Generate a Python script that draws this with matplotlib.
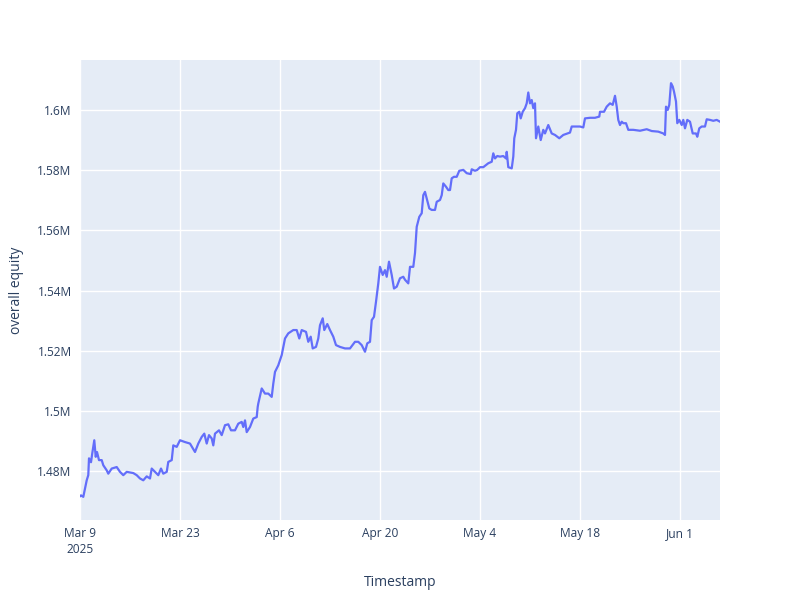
import numpy as np
import pandas as pd
import matplotlib
matplotlib.use("Agg")
import matplotlib.pyplot as plt
import matplotlib.dates as mdates
from matplotlib.ticker import FuncFormatter

# days since 2025-03-09 00:00, overall equity in millions
days = [0.0, 0.14, 0.46, 0.7, 0.94, 1.16, 1.26, 1.54, 1.72, 2.0, 2.2, 2.38, 2.66, 3.04, 3.26,
        3.74, 3.96, 4.44, 5.14, 5.6, 6.06, 6.54, 7.46, 7.94, 8.4, 8.86, 9.34, 9.8, 10.04,
        10.5, 10.96, 11.34, 11.66, 12.14, 12.36, 12.84, 13.06, 13.54, 14.0, 14.7, 15.4,
        16.1, 16.56, 17.04, 17.4, 17.74, 18.06, 18.44, 18.66, 18.9, 19.46, 19.84, 20.3,
        20.76, 21.14, 21.7, 22.16, 22.64, 22.86, 23.1, 23.34, 23.8, 24.26, 24.74, 24.88,
        24.96, 25.44, 25.9, 26.36, 26.84, 27.06, 27.3, 27.76, 28.24, 28.7, 29.16, 29.86,
        30.34, 30.7, 31.04, 31.64, 31.96, 32.3, 32.58, 33.04, 33.36, 33.6, 33.98, 34.2,
        34.62, 35.0, 35.46, 35.84, 36.4, 37.1, 37.8, 38.5, 38.96, 39.44, 39.9, 40.22,
        40.6, 40.84, 41.16, 41.44, 41.76, 42.0, 42.38, 42.7, 42.94, 43.26, 43.64, 43.96,
        44.34, 44.8, 45.26, 45.5, 45.96, 46.2, 46.66, 46.9, 47.14, 47.5, 47.84, 48.06,
        48.3, 48.54, 48.9, 49.24, 49.7, 49.94, 50.4, 50.64, 50.86, 51.24, 51.56, 51.8,
        52.04, 52.36, 52.74, 53.1, 53.66, 54.14, 54.7, 54.84, 55.3, 55.62, 56.0, 56.46,
        56.84, 57.16, 57.64, 57.86, 58.1, 58.42, 58.8, 59.26, 59.64, 59.74, 59.96, 60.44,
        60.66, 60.8, 61.04, 61.22, 61.5, 61.7, 61.98, 62.3, 62.54, 62.76, 63.0, 63.24,
        63.46, 63.7, 63.84, 64.16, 64.5, 64.86, 65.1, 65.56, 66.04, 66.5, 67.1, 67.66,
        68.6, 68.84, 69.54, 70.0, 70.46, 70.7, 71.4, 72.1, 72.7, 72.8, 73.36, 73.74,
        74.2, 74.58, 74.9, 75.14, 75.36, 75.6, 75.84, 76.06, 76.44, 76.76, 77.46, 78.4,
        79.34, 80.04, 80.96, 81.66, 81.9, 82.04, 82.28, 82.5, 82.74, 82.98, 83.16, 83.44,
        83.62, 83.9, 84.24, 84.46, 84.7, 85.02, 85.4, 85.78, 86.24, 86.42, 86.7, 87.04,
        87.5, 87.74, 88.2, 88.66, 89.14, 89.6]
equity_m = [1.4717, 1.472, 1.4715, 1.4743, 1.477, 1.4787, 1.4843, 1.483, 1.486, 1.4903, 1.4848,
            1.4864, 1.4837, 1.4837, 1.482, 1.4803, 1.4792, 1.4809, 1.4814, 1.4798, 1.4787,
            1.4798, 1.4794, 1.4787, 1.4776, 1.477, 1.4783, 1.4776, 1.4809, 1.4798, 1.4787,
            1.4809, 1.4792, 1.4798, 1.4831, 1.4837, 1.4886, 1.4881, 1.4903, 1.4897, 1.4892,
            1.4864, 1.4892, 1.4914, 1.4925, 1.4892, 1.492, 1.4909, 1.4886, 1.4925, 1.4936,
            1.492, 1.4953, 1.4956, 1.4936, 1.4936, 1.4958, 1.4964, 1.4947, 1.4969, 1.493,
            1.4947, 1.4975, 1.498, 1.5014, 1.5025, 1.5075, 1.5058, 1.5058, 1.5047, 1.5091,
            1.513, 1.5152, 1.5186, 1.5241, 1.5258, 1.5269, 1.5269, 1.5241, 1.5269, 1.5263,
            1.523, 1.5247, 1.5208, 1.5213, 1.5241, 1.5285, 1.5308, 1.5269, 1.5289, 1.5269,
            1.5247, 1.5219, 1.5213, 1.5208, 1.5208, 1.523, 1.523, 1.5219, 1.5197, 1.5225,
            1.523, 1.5302, 1.5313, 1.5363, 1.5424, 1.5479, 1.5452, 1.5468, 1.5446, 1.5496,
            1.5452, 1.5407, 1.5413, 1.5441, 1.5446, 1.5436, 1.5424, 1.5479, 1.5479, 1.5525,
            1.5612, 1.5645, 1.5657, 1.5717, 1.5728, 1.5706, 1.5673, 1.5668, 1.5668, 1.5695,
            1.5701, 1.5717, 1.5756, 1.5745, 1.5734, 1.5734, 1.5773, 1.5778, 1.5778, 1.5798,
            1.5801, 1.579, 1.5787, 1.5803, 1.5798, 1.5801, 1.581, 1.581, 1.5817, 1.5823,
            1.5828, 1.5856, 1.5839, 1.5847, 1.5845, 1.5847, 1.5839, 1.5861, 1.581, 1.5806,
            1.5845, 1.5906, 1.5934, 1.5989, 1.5994, 1.5972, 1.5994, 1.6006, 1.6022, 1.6058,
            1.6022, 1.6033, 1.6006, 1.6022, 1.5906, 1.5945, 1.59, 1.5934, 1.5922, 1.595,
            1.5922, 1.5917, 1.5906, 1.5917, 1.5925, 1.5945, 1.5945, 1.5945, 1.5942, 1.5972,
            1.5974, 1.5974, 1.5978, 1.5994, 1.5994, 1.6011, 1.6022, 1.6017, 1.6047, 1.6011,
            1.5967, 1.595, 1.5961, 1.5956, 1.5956, 1.5934, 1.5934, 1.5931, 1.5936, 1.593,
            1.5928, 1.5922, 1.5917, 1.6011, 1.6, 1.6017, 1.6089, 1.6078, 1.6061, 1.6028,
            1.5956, 1.5967, 1.595, 1.5967, 1.5939, 1.5967, 1.5961, 1.5922, 1.5922, 1.5911,
            1.5939, 1.5945, 1.5945, 1.5969, 1.5967, 1.5964, 1.5967, 1.5961]

start = pd.Timestamp("2025-03-09")
timestamps = start + pd.to_timedelta(days, unit="D")
equity = np.array(equity_m) * 1e6

tick_dates = pd.date_range("2025-03-09", "2025-06-01", freq="14D")
tick_labels = ["Mar 9\n2025", "Mar 23", "Apr 6", "Apr 20", "May 4", "May 18", "Jun 1"]

txt = "#2a3f5f"
plt.rcParams["font.family"] = ["Open Sans", "DejaVu Sans"]

fig = plt.figure(figsize=(8, 6), dpi=100)
ax = fig.add_axes([0.1, 0.1333, 0.8, 0.7667])
ax.set_facecolor("#E5ECF6")
ax.plot(timestamps, equity, color="#636EFA", lw=1.6, zorder=3)

ax.set_xlim(timestamps[0], timestamps[-1])
lo, hi = equity.min(), equity.max()
pad = (hi - lo) * 0.056
ax.set_ylim(lo - pad, hi + pad)

ax.set_xticks(tick_dates)
ax.set_xticklabels(tick_labels, ha="center", linespacing=1.3)
ax.set_yticks(np.arange(1.48e6, 1.601e6, 0.02e6))
ax.yaxis.set_major_formatter(FuncFormatter(lambda v, p: f"{v / 1e6:g}M"))

ax.grid(True, color="white", lw=1, zorder=0)
ax.set_axisbelow(True)
for s in ax.spines.values():
    s.set_visible(False)
ax.tick_params(length=0, labelsize=8.6, labelcolor=txt, pad=6)
ax.tick_params(axis="x", pad=5)

ax.set_xlabel("Timestamp", fontsize=10, color=txt, labelpad=14)
ax.set_ylabel("overall equity", fontsize=10, color=txt, labelpad=10)

fig.savefig("out.png", dpi=100)
